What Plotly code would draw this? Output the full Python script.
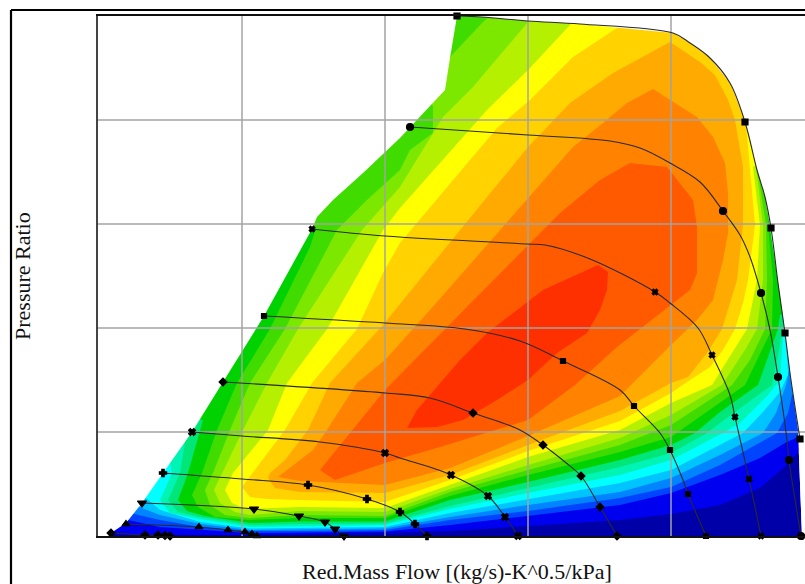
import plotly.graph_objects as go

# Axis scale has no readable numbers in the source, values are in grid-relative flow / pressure units
X_TICKS = [0, 144, 287, 430, 573]
Y_TICKS = [0, 104, 208, 312, 416, 520]
X_MAX = 707
Y_MAX = 520
X_LABEL = "Red.Mass Flow [(kg/s)-K^0.5/kPa]"
Y_LABEL = "Pressure Ratio"

# Map envelope (surge line, top speed line, choke line)
ENVELOPE = [(10,0),(13,3),(28,13),(44,33),(65,63),(94,104),(125,154),(166,220),(214,307),(219,319),(235,336),
            (265,363),(302,398),(319,416),(347,446),(352,478),(359,520),(384,519),(430,515),(482,512),(575,503),
            (592,493),(612,478),(632,453),(647,416),(659,366),(667,339),(672,309),(680,253),(685,219),(692,163),
            (700,106),(704,0)]

# Efficiency contour levels, lowest to highest
BAND_1 = [(0,2),(15,2),(102,1),(202,1.5),(287,3),(352,5),(430,10),(522,16),(573,22),(622,31),(662,48),(690,72),(704,89),(707,96),(707,520),(0,520)]
BAND_2 = [(26,17),(30,16),(62,9),(102,6),(152,3),(202,3.5),(287,4.5),(352,11),(430,20),(522,31),(573,43),(622,61),(662,78),(687,93),(700,99),(707,104),(707,520),(0,520),(0,17)]
BAND_3 = [(32,23),(36,22),(62,16),(102,9),(152,5),(202,5),(287,6),(352,16),(430,25),(522,38),(573,49),(622,71),(679,103),(690,123),(694,141),(707,146),(707,520),(0,520),(0,23)]
BAND_4 = [(37,31),(41,29),(62,21),(102,12),(152,6),(202,6.5),(287,7.5),(352,19),(430,31),(522,44),(573,58),(622,81),(665,103),(678,123),(688,151),(692,171),(707,176),(707,520),(0,520),(0,31)]
BAND_5 = [(42,41),(48,38),(62,26),(102,14),(152,7.5),(202,8),(287,9),(352,23),(430,37),(522,53),(573,66),(622,91),(645,103),(664,123),(682,144),(690,161),(689,191),(707,196),(707,520),(0,520),(0,41)]
BAND_6 = [(62,76),(72,74),(74,63),(62,36),(72,23),(102,17),(152,9),(202,10),(287,11),(352,27),(430,43),(522,61),(573,76),(625,103),(642,113),(670,141),(682,156),(685,201),(707,206),(707,520),(0,520),(0,76)]
BAND_7 = [(74,96),(87,94),(82,63),(70,36),(80,24),(102,19),(152,11),(202,12),(287,12.5),(352,30),(430,48),(522,69),(573,83),(609,103),(622,113),(674,151),(682,191),(686,216),(707,221),(707,520),(0,520),(0,96)]
BAND_8 = [(97,118),(105,116),(90,63),(80,36),(89,25),(107,20),(152,13),(202,14.5),(287,14.5),(352,36),(430,54),(522,76),(573,91),(597,103),(622,124),(660,151),(680,207),(682,221),(707,231),(707,520),(0,520),(0,118)]
BAND_9 = [(207,308),(218,308),(212,289),(172,207),(139,153),(119,106),(104,63),(94,41),(100,29),(117,19),(152,16),(202,18),(287,18),(352,40),(430,61),(522,84),(573,99),(622,133),(647,151),(674,207),(675,256),(670,311),(669,331),(692,336),(692,520),(202,520)]
BAND_10 = [(132,106),(115,63),(107,46),(112,31),(127,21),(152,18),(202,21),(287,20),(352,44),(430,66),(522,91),(573,111),(622,143),(634,151),(652,176),(667,207),(669,256),(668,311),(659,369),(677,376),(677,520),(392,520),(385,514),(354,481),(342,466),(332,436),(335,429),(335,403),(312,386),(302,366),(269,336),(239,306),(187,207),(152,153)]
BAND_11 = [(145,106),(124,63),(116,46),(122,33),(137,24),(152,21),(202,25),(287,24),(352,47),(430,71),(522,98),(573,121),(624,151),(647,186),(659,207),(665,256),(665,311),(658,369),(677,376),(677,520),(432,520),(430,514),(375,449),(345,419),(302,349),(264,306),(200,207),(169,153)]
BAND_12 = [(170,106),(135,63),(127,46),(134,33),(147,27),(202,29),(287,28),(352,51),(430,79),(522,106),(573,133),(614,151),(649,207),(659,256),(662,311),(655,369),(677,386),(677,520),(477,520),(472,511),(430,466),(389,426),(302,328),(285,306),(229,207),(189,153)]
BAND_13 = [(187,106),(155,63),(144,49),(152,39),(169,37),(202,36),(287,34),(352,56),(430,85),(522,115),(573,143),(592,156),(612,169),(625,186),(637,207),(645,233),(650,256),(657,311),(652,369),(648,411),(677,416),(677,520),(522,520),(519,508),(475,479),(432,436),(399,408),(302,293),(285,263),(259,207),(214,153)]
BAND_14 = [(170,58),(177,48),(202,44),(287,43),(352,61),(430,91),(522,125),(573,153),(590,159),(609,183),(624,207),(632,233),(639,256),(645,311),(645,369),(637,416),(630,436),(617,461),(602,474),(572,494),(515,463),(472,433),(430,389),(332,269),(285,211),(232,153),(210,106),(187,76),(172,63)]
BAND_15 = [(180,59),(202,55),(287,51),(352,68),(430,100),(522,140),(573,191),(599,216),(615,236),(620,256),(625,276),(630,303),(630,343),(627,373),(615,399),(599,419),(555,447),(529,433),(505,413),(475,389),(402,306),(332,226),(287,176),(259,153),(229,106),(215,86)]
BAND_16 = [(222,66),(237,56),(287,73),(342,89),(430,116),(477,151),(519,189),(572,231),(592,246),(599,263),(599,309),(595,336),(569,369),(532,373),(502,356),(462,323),(432,293),(359,219),(287,146),(252,103)]
BAND_17 = [(309,108),(339,109),(365,116),(399,136),(430,156),(459,183),(489,203),(502,226),(509,246),(510,264),(500,271),(445,246),(432,236),(389,203),(362,176),(339,149),(319,126)]
BANDS = [ENVELOPE, BAND_1, BAND_2, BAND_3, BAND_4, BAND_5, BAND_6, BAND_7, BAND_8, BAND_9, BAND_10,
         BAND_11, BAND_12, BAND_13, BAND_14, BAND_15, BAND_16, BAND_17]
BAND_COLORS = ["#0000a8", "#0000f0", "#0044ff", "#0084ff", "#00c4ff", "#00ffff", "#00f5b4", "#00e678", "#00d200",
               "#40dc00", "#7ce800", "#b4f000", "#ffff00", "#ffd200", "#ffaa00", "#ff8200", "#ff5a00", "#ff3000"]

# Speed lines: curve points and the measured points that carry a marker
SPEED_1 = [(359,520),(384,519),(430,515),(482,512),(575,503),(592,493),(612,478),(632,453),(647,414),(659,366),(667,339),(673,308),(680,253),(687,203),(692,163),(702,97)]
MARK_1 = [(359,520),(647,414),(673,308),(687,203),(702,97)]
SPEED_2 = [(312,409),(430,401),(512,395),(542,388),(572,373),(602,354),(625,325),(642,301),(652,279),(663,243),(672,206),(680,159),(689,96),(691,76),(703,0)]
MARK_2 = [(312,409),(625,325),(663,243),(680,159),(691,76),(703,0)]
SPEED_3 = [(214,307),(287,300),(430,292),(447,291),(492,277),(557,244),(572,233),(600,208),(614,181),(632,141),(637,119),(651,57),(663,0)]
MARK_3 = [(214,307),(557,244),(614,181),(637,119),(651,57),(663,0)]
SPEED_4 = [(166,220),(287,213),(367,207),(422,195),(465,175),(522,146),(536,130),(562,103),(572,86),(585,56),(590,42),(608,0)]
MARK_4 = [(166,220),(465,175),(536,130),(572,86),(590,42),(608,0)]
SPEED_5 = [(125,154),(287,143),(332,138),(375,123),(420,107),(445,91),(467,74),(483,60),(502,29),(519,0)]
MARK_5 = [(125,154),(375,123),(445,91),(483,60),(502,29),(519,0)]
SPEED_6 = [(94,104),(144,100),(222,94),(287,83),(302,78),(353,61),(390,40),(407,19),(420,0)]
MARK_6 = [(94,104),(287,83),(353,61),(390,40),(407,19),(420,0)]
SPEED_7 = [(65,63),(144,57),(210,51),(269,37),(302,24),(317,12),(329,0)]
MARK_7 = [(65,63),(210,51),(269,37),(302,24),(317,12),(329,0)]
SPEED_8 = [(44,33),(156,27),(201,20),(227,14),(237,7),(246,0)]
SPEED_9 = [(28,12),(101,9),(130,6),(147,4),(154,2),(159,0)]
SPEED_10 = [(13,3),(47,1),(60,1),(67,0.5),(72,0)]
SPEEDS = [(SPEED_1, MARK_1, "square", 6), (SPEED_2, MARK_2, "circle", 7), (SPEED_3, MARK_3, "x", 5),
          (SPEED_4, MARK_4, "square", 5), (SPEED_5, MARK_5, "diamond", 6), (SPEED_6, MARK_6, "x", 6),
          (SPEED_7, MARK_7, "cross", 6), (SPEED_8, SPEED_8, "triangle-down", 8), (SPEED_9, SPEED_9, "triangle-up", 7),
          (SPEED_10, SPEED_10, "diamond", 6)]

LEFT, TOP, BOTTOM, WIDTH, HEIGHT = 98, 16, 48, 805, 584
PLOT_W = WIDTH - LEFT
PLOT_H = HEIGHT - TOP - BOTTOM
def paper_x(px):
    return (px - LEFT) / PLOT_W
def paper_y(py):
    return (HEIGHT - BOTTOM - py) / PLOT_H
def xs(pts):
    return [p[0] for p in pts]
def ys(pts):
    return [p[1] for p in pts]

fig = go.Figure()
for pts, color in zip(BANDS, BAND_COLORS):
    fig.add_trace(go.Scatter(x=xs(pts), y=ys(pts), mode="lines", fill="toself", fillcolor=color,
                             line=dict(width=0, color=color), hoverinfo="skip", showlegend=False))
# everything outside the envelope stays blank
blank = ENVELOPE + [(X_MAX, 0), (X_MAX, Y_MAX), (0, Y_MAX), (0, 0)]
fig.add_trace(go.Scatter(x=xs(blank), y=ys(blank), mode="lines", fill="toself", fillcolor="white",
                         line=dict(width=0, color="white"), hoverinfo="skip", showlegend=False))
# grid drawn over the contour fill
for t in X_TICKS[1:]:
    fig.add_trace(go.Scatter(x=[t, t], y=[0, Y_MAX], mode="lines", line=dict(color="#a3a3a3", width=1.5),
                             hoverinfo="skip", showlegend=False))
for t in Y_TICKS[1:-1]:
    fig.add_trace(go.Scatter(x=[0, X_MAX], y=[t, t], mode="lines", line=dict(color="#a3a3a3", width=1.5),
                             hoverinfo="skip", showlegend=False))
for curve, marks, symbol, size in SPEEDS:
    fig.add_trace(go.Scatter(x=xs(curve), y=ys(curve), mode="lines", line=dict(color="#2a2a2a", width=1.1, shape="spline", smoothing=1.0),
                             cliponaxis=False, hoverinfo="skip", showlegend=False))
    fig.add_trace(go.Scatter(x=xs(marks), y=ys(marks), mode="markers",
                             marker=dict(symbol=symbol, size=size, color="black",
                                         line=dict(color="black", width=1.2)),
                             cliponaxis=False, hoverinfo="skip", showlegend=False))

fig.update_xaxes(range=[0, X_MAX], tickvals=X_TICKS, showticklabels=False, ticks="", showgrid=True, gridcolor="#a3a3a3",
                 showline=True, linecolor="#111111", linewidth=2, mirror=True, zeroline=False)
fig.update_yaxes(range=[0, Y_MAX], tickvals=Y_TICKS, showticklabels=False, ticks="", showgrid=True, gridcolor="#a3a3a3",
                 showline=True, linecolor="#444444", linewidth=2, zeroline=False)

frame = dict(type="line", xref="paper", yref="paper", line=dict(color="black", width=2.2))
fig.update_layout(
    width=WIDTH, height=HEIGHT, margin=dict(l=LEFT, r=0, t=TOP, b=BOTTOM, autoexpand=False),
    paper_bgcolor="white", plot_bgcolor="white", showlegend=False, hovermode=False,
    shapes=[dict(frame, x0=paper_x(11), x1=paper_x(11), y0=paper_y(10), y1=paper_y(HEIGHT)),
            dict(frame, x0=paper_x(11), x1=paper_x(WIDTH), y0=paper_y(10), y1=paper_y(10))],
    annotations=[
        dict(text=X_LABEL, xref="paper", yref="paper", x=paper_x(457), y=paper_y(571), showarrow=False,
             font=dict(family="Liberation Serif", size=22, color="#111111"), xanchor="center", yanchor="middle"),
        dict(text=Y_LABEL, xref="paper", yref="paper", x=paper_x(22), y=paper_y(276), showarrow=False, textangle=-90,
             font=dict(family="Liberation Serif", size=22, color="#111111"), xanchor="center", yanchor="middle"),
    ],
)
fig.write_html("out.html", config=dict(displayModeBar=False),
               post_script="document.body.style.margin='0';document.body.style.overflow='hidden';")
